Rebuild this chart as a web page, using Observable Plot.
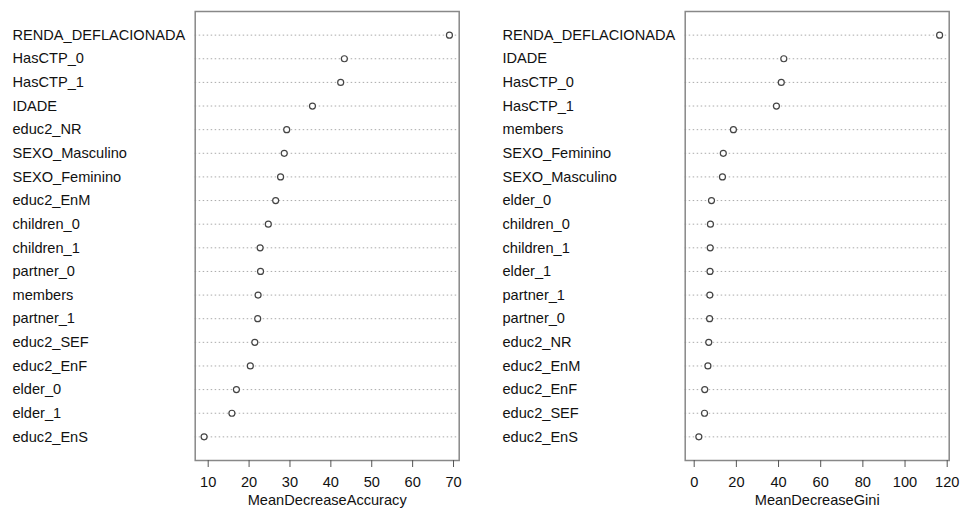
<!DOCTYPE html>
<html>
<head>
<meta charset="utf-8">
<script src="https://cdn.jsdelivr.net/npm/d3@7"></script>
<script src="https://cdn.jsdelivr.net/npm/@observablehq/plot@0.6"></script>
<style>
  html, body { margin: 0; padding: 0; background: #fff; }
  #wrap { display: flex; width: 960px; height: 514px; }
  svg { font-family: "Liberation Sans", Arial, sans-serif; }
</style>
</head>
<body>
<div id="wrap"></div>
<script>
const accNames = ["RENDA_DEFLACIONADA","HasCTP_0","HasCTP_1","IDADE","educ2_NR","SEXO_Masculino","SEXO_Feminino","educ2_EnM","children_0","children_1","partner_0","members","partner_1","educ2_SEF","educ2_EnF","elder_0","elder_1","educ2_EnS"];
const accValues = [69.0,43.3,42.4,35.5,29.2,28.6,27.7,26.5,24.7,22.7,22.8,22.2,22.1,21.4,20.3,16.9,15.8,9.0];
const accTicks = [10,20,30,40,50,60,70];

const giniNames = ["RENDA_DEFLACIONADA","IDADE","HasCTP_0","HasCTP_1","members","SEXO_Feminino","SEXO_Masculino","elder_0","children_0","children_1","elder_1","partner_1","partner_0","educ2_NR","educ2_EnM","educ2_EnF","educ2_SEF","educ2_EnS"];
const giniValues = [116.4,42.5,41.3,39.0,18.6,13.8,13.4,8.2,7.7,7.6,7.5,7.4,7.3,6.9,6.5,5.0,4.9,2.2];
const giniTicks = [0,20,40,60,80,100,120];

function panel(names, values, ticks, domain, label, mLeft, mRight, labelDx) {
  const data = names.map((n, i) => ({name: n, value: values[i]}));
  return Plot.plot({
    width: 480,
    height: 514,
    marginLeft: mLeft,
    marginRight: mRight,
    marginTop: 11,
    marginBottom: 54,
    style: {fontFamily: "Liberation Sans, Arial, sans-serif", fontSize: "14.6px", color: "#111"},
    x: {domain: domain, ticks: ticks, label: null},
    y: {type: "point", domain: names, padding: 1, round: false, axis: null},
    marks: [
      Plot.ruleY(data, {y: "name", stroke: "#aaa", strokeDasharray: "1.5,2.5", strokeWidth: 1}),
      Plot.frame({stroke: "#888", strokeWidth: 1.5}),
      Plot.dot(data, {x: "value", y: "name", r: 3, stroke: "#444", strokeWidth: 1.2, fill: "white"}),
      Plot.axisX({ticks: ticks, tickSize: 7, tickPadding: 9, fontSize: 14.6, label: null, stroke: "#555", fill: "#111"}),
      Plot.text(data, {y: "name", text: "name", frameAnchor: "left", textAnchor: "start", dx: labelDx, fontSize: 14.6, fill: "#111"}),
      Plot.text([label], {frameAnchor: "bottom", dy: 44, fontSize: 14.6, fill: "#111"})
    ]
  });
}

const wrap = document.getElementById("wrap");
wrap.appendChild(panel(accNames, accValues, accTicks, [6.82, 71.39], "MeanDecreaseAccuracy", 194.7, 21.3, -182.7));
wrap.appendChild(panel(giniNames, giniValues, giniTicks, [-4.27, 120.95], "MeanDecreaseGini", 204.7, 11.3, -182.7));
</script>
</body>
</html>
